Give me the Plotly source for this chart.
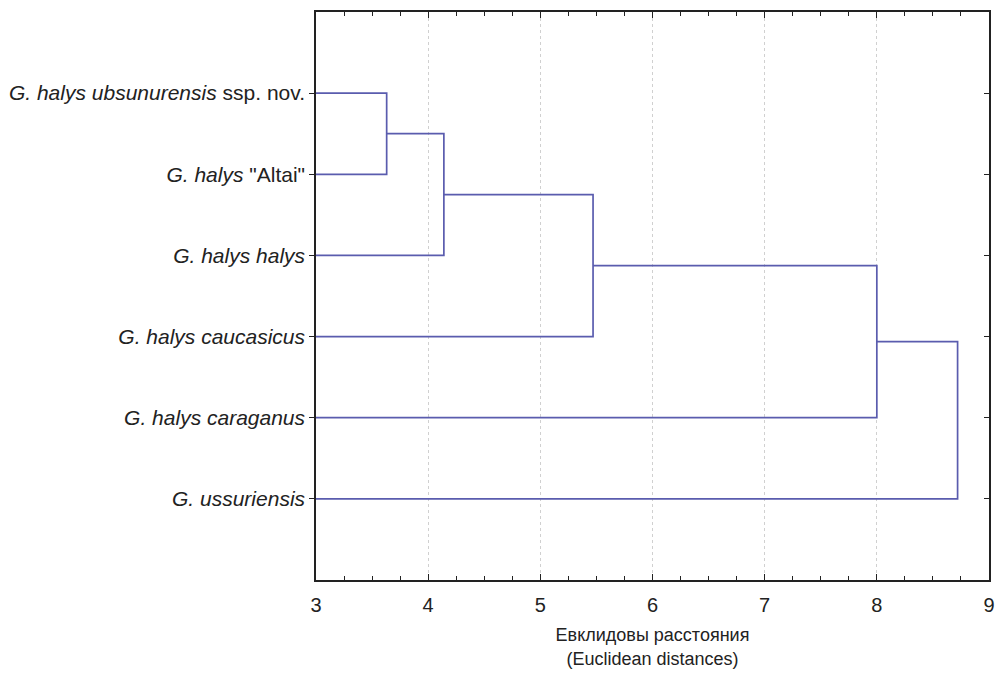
import plotly.graph_objects as go

# Leaves, top to bottom
leaf_labels = [
    "<i>G. halys ubsunurensis</i> ssp. nov.",
    "<i>G. halys</i> \"Altai\"",
    "<i>G. halys halys</i>",
    "<i>G. halys caucasicus</i>",
    "<i>G. halys caraganus</i>",
    "<i>G. ussuriensis</i>",
]

# Agglomeration steps: ids < 6 are leaves, id 6+k is the cluster made at step k
merge_a = [0, 6, 7, 8, 9]
merge_b = [1, 2, 3, 4, 5]
merge_dist = [3.63, 4.14, 5.47, 8.00, 8.72]

x_ticks = [3, 4, 5, 6, 7, 8, 9]

line_color = "#5a5cae"

# Node positions: leaves sit at distance 0, rows 1..6
node_y = {i: i + 1 for i in range(len(leaf_labels))}
node_x = {i: 0.0 for i in range(len(leaf_labels))}

xs, ys = [], []
for k, (a, b, d) in enumerate(zip(merge_a, merge_b, merge_dist)):
    ya, yb = node_y[a], node_y[b]
    xs += [node_x[a], d, d, node_x[b], None]
    ys += [ya, ya, yb, yb, None]
    new_id = len(leaf_labels) + k
    node_y[new_id] = (ya + yb) / 2
    node_x[new_id] = d

fig = go.Figure()
fig.add_trace(go.Scatter(
    x=xs, y=ys, mode="lines",
    line=dict(color=line_color, width=1.7),
    hoverinfo="skip", showlegend=False,
))
# invisible trace to anchor the right-hand axis
fig.add_trace(go.Scatter(x=[None], y=[None], yaxis="y2", showlegend=False))

font_family = "Liberation Sans, Arial, sans-serif"
rows = list(range(1, len(leaf_labels) + 1))

fig.update_layout(
    width=1003, height=675,
    margin=dict(l=316, r=8, t=12, b=95),
    paper_bgcolor="white", plot_bgcolor="white",
    font=dict(family=font_family, color="#222222"),
    xaxis=dict(
        range=[3, 9], tickvals=x_ticks,
        ticks="inside", ticklen=6, tickwidth=1.2, tickcolor="#222",
        minor=dict(dtick=0.25, ticks="inside", ticklen=4, tickcolor="#222", showgrid=False),
        showline=True, linecolor="#222", linewidth=1.5, mirror="ticks",
        showgrid=True, gridcolor="#d0d0d0", griddash="dot", gridwidth=1,
        zeroline=False,
        tickfont=dict(size=20, color="#222"),
        ticklabelstandoff=6,
        title=dict(text="Евклидовы расстояния<br>(Euclidean distances)",
                   font=dict(size=18, color="#222"), standoff=14),
    ),
    yaxis=dict(
        range=[7, 0], tickvals=rows, ticktext=leaf_labels,
        ticks="outside", ticklen=5, tickcolor="#222",
        showline=True, linecolor="#222", linewidth=1.5, mirror=True,
        showgrid=False, zeroline=False,
        tickfont=dict(size=21, color="#222"),
    ),
    yaxis2=dict(
        overlaying="y", side="right", range=[7, 0], tickvals=rows,
        showticklabels=False, ticks="inside", ticklen=5, tickcolor="#222",
        showgrid=False, zeroline=False, showline=False,
    ),
)

fig.write_html("out.html")
